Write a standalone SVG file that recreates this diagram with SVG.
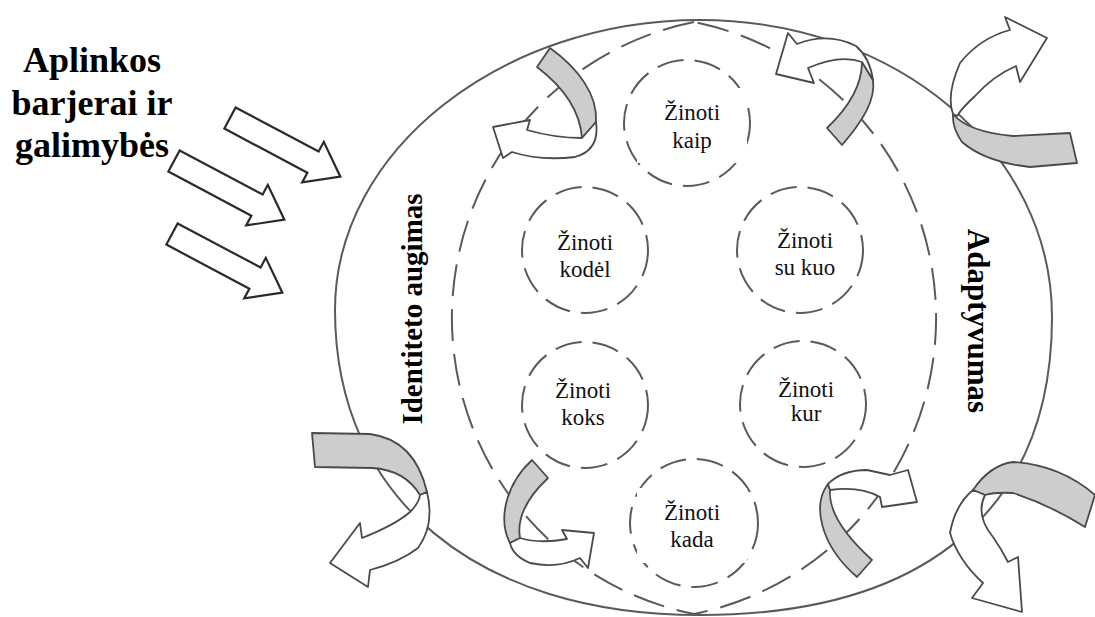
<svg xmlns="http://www.w3.org/2000/svg" width="1095" height="617" viewBox="0 0 1095 617">
<style>
.bg{fill:#ffffff}
.outer{fill:none;stroke:#5a5a5a;stroke-width:2}
.lens{fill:none;stroke:#5a5a5a;stroke-width:2;stroke-dasharray:32 13}
.small{fill:none;stroke:#5a5a5a;stroke-width:2;stroke-dasharray:27 11}
.tbox{fill:#ffffff;stroke:none}
.lbl{font-size:23px;fill:#111;text-anchor:middle}
.big{font-weight:bold;fill:#000;text-anchor:middle}
.blk{fill:#ffffff;stroke:#2a2a2a;stroke-width:2.2;stroke-linejoin:miter}
.grey{fill:#cdcdcd;stroke:#4a4a4a;stroke-width:1.8;stroke-linejoin:round}
.white{fill:#ffffff;stroke:#4a4a4a;stroke-width:1.8;stroke-linejoin:round}
</style>
<defs>
<path id="straight" d="M0,-12 L94,-12 L94,-23 L125,0 L94,23 L94,12 L0,12 Z"/>
</defs>
<rect class="bg" x="0" y="0" width="1095" height="617"/>

<g id="frame">
<path class="outer" d="M335,310 C335,150 502,20 700,20 C898,20 1052,153 1052,317 C1052,510 925,615 700,615 C478,615 335,499 335,310 Z"/>
<path class="lens" d="M694,22 A302,302 0 0 0 694,614 A302,302 0 0 0 694,22 Z"/>
</g>

<g font-family="'Liberation Serif', 'Times New Roman', 'DejaVu Serif', serif">
<g id="node-kaip">
<circle class="small" cx="687" cy="123" r="63"/>
<rect class="tbox" x="637" y="88" width="110" height="75"/>
<text class="lbl" x="692" y="120">Žinoti</text>
<text class="lbl" x="692" y="148">kaip</text>
</g>
<g id="node-kodel">
<circle class="small" cx="585" cy="250" r="63"/>
<text class="lbl" x="585" y="250">Žinoti</text>
<text class="lbl" x="585" y="277">kodėl</text>
</g>
<g id="node-sukuo">
<circle class="small" cx="800" cy="250" r="63"/>
<text class="lbl" x="805" y="248">Žinoti</text>
<text class="lbl" x="805" y="275">su kuo</text>
</g>
<g id="node-koks">
<circle class="small" cx="585" cy="405" r="63"/>
<text class="lbl" x="583" y="398">Žinoti</text>
<text class="lbl" x="583" y="425">koks</text>
</g>
<g id="node-kur">
<circle class="small" cx="803" cy="404" r="63"/>
<text class="lbl" x="806" y="397">Žinoti</text>
<text class="lbl" x="806" y="421">kur</text>
</g>
<g id="node-kada">
<circle class="small" cx="694" cy="523" r="64"/>
<rect class="tbox" x="637" y="488" width="110" height="75"/>
<text class="lbl" x="692" y="520">Žinoti</text>
<text class="lbl" x="692" y="547">kada</text>
</g>

<g id="label-aplinka">
<text class="big" font-size="36" x="92" y="72">Aplinkos</text>
<text class="big" font-size="36" x="92" y="115">barjerai ir</text>
<text class="big" font-size="36" x="92" y="157">galimybės</text>
</g>
<g id="label-identitetas">
<text class="big" font-size="29" transform="translate(422,309) rotate(-90)">Identiteto augimas</text>
</g>
<g id="label-adaptyvumas">
<text class="big" font-size="31" transform="translate(968,321) rotate(90)">Adaptyvumas</text>
</g>
</g>

<g id="connectors">
<use href="#straight" class="blk" transform="translate(230,118) rotate(28)"/>
<use href="#straight" class="blk" transform="translate(174,161) rotate(28)"/>
<use href="#straight" class="blk" transform="translate(172,234) rotate(28)"/>

<g id="flow-inner-tl">
<path class="grey" d="M550,48 C578,68 598,95 596,122 L582,138 C580,110 562,86 537,67 Z"/>
<path class="white" d="M527,130 Q555,138 582,138 L596,122 Q600,150 575,157 Q540,161 512,152 L503,158 L493,127 L530,120 Z"/>
</g>
<g id="flow-inner-tr">
<path class="grey" d="M827,128 L842,145 C862,122 876,100 873,80 L862,62 C862,85 848,108 827,128 Z"/>
<path class="white" d="M797,44 Q828,32 856,46 Q870,58 873,80 L862,62 Q840,54 808,68 L814,83 L776,74 L788,33 Z"/>
</g>
<g id="flow-outer-tr">
<path class="grey" d="M953,114 Q968,132 1013,136 L1070,133 L1077,163 L1030,167 Q985,162 962,142 Q952,128 953,114 Z"/>
<path class="white" d="M1010,30 L1005,17 L1047,38 L1020,82 L1016,66 Q993,76 975,96 Q962,108 957,116 L953,114 Q946,95 960,63 Q980,38 1010,30 Z"/>
</g>
<g id="flow-outer-l">
<path class="grey" d="M312,433 L370,434 Q415,440 427,492 L420,495 Q405,470 372,468 L315,467 Z"/>
<path class="white" d="M420,495 L427,492 Q435,525 418,548 Q400,562 370,570 L368,587 L330,563 L360,523 L362,538 Q395,525 410,512 Q419,503 420,495 Z"/>
</g>
<g id="flow-inner-bl">
<path class="grey" d="M532,460 L548,478 C530,495 516,515 520,538 L510,543 C498,520 505,485 532,460 Z"/>
<path class="white" d="M510,543 L520,538 Q540,544 567,539 L562,530 L594,533 L588,568 L580,558 Q557,569 530,563 Q513,556 510,543 Z"/>
</g>
<g id="flow-inner-br">
<path class="grey" d="M857,577 L872,560 C850,540 828,515 830,490 L828,484 C812,505 820,545 857,577 Z"/>
<path class="white" d="M828,484 Q842,470 867,470 L890,475 L908,470 L917,502 L882,507 L880,497 Q860,486 830,490 Z"/>
</g>
<g id="flow-outer-br">
<path class="grey" d="M973,490 Q990,465 1013,462 Q1060,465 1095,495 L1085,527 Q1050,505 1013,493 Q995,492 985,495 Z"/>
<path class="white" d="M973,490 L985,495 Q975,515 993,537 Q1002,550 1008,562 L1018,557 L1022,612 L972,598 L983,583 Q958,560 950,533 Q955,505 973,490 Z"/>
</g>
</g>
</svg>
